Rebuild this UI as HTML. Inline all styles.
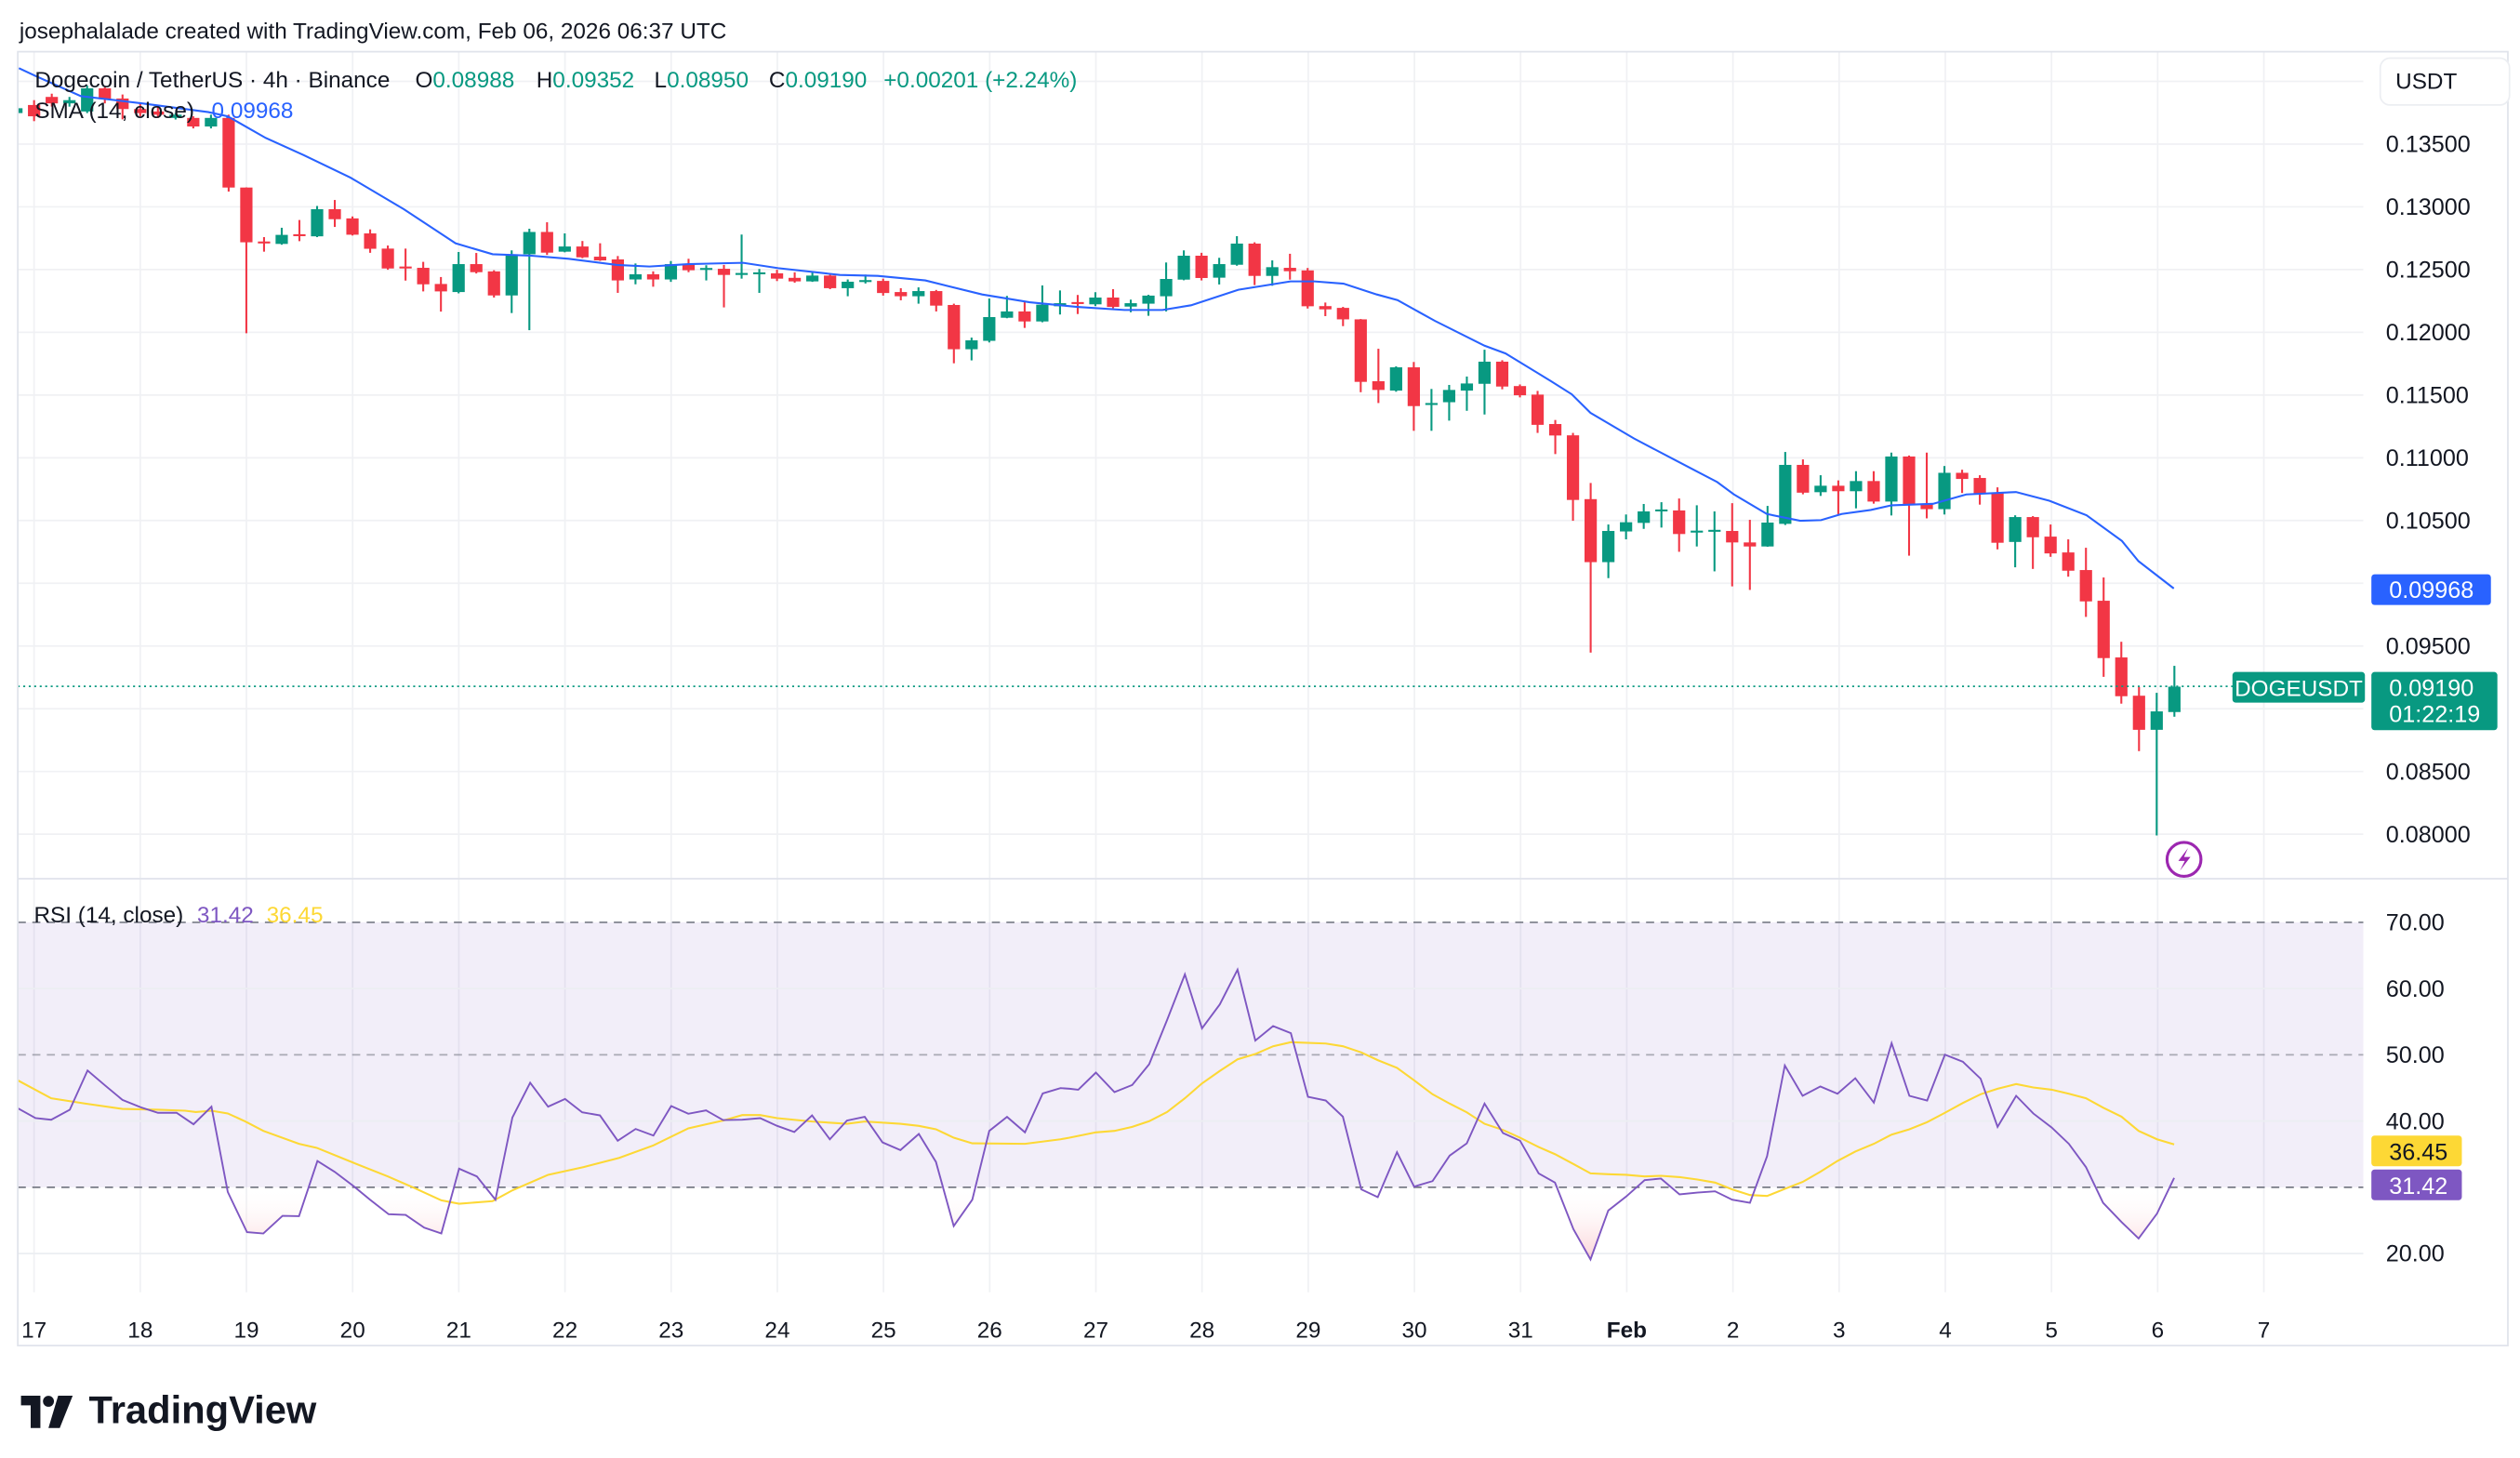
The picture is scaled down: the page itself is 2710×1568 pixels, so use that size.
<!DOCTYPE html>
<html><head><meta charset="utf-8"><style>
html,body{margin:0;padding:0;background:#fff;}
svg{display:block;font-family:"Liberation Sans",Arial,sans-serif;}
</style></head><body>
<svg id="s" width="2710" height="1568" viewBox="0 0 1560 902.6" preserveAspectRatio="none" xmlns="http://www.w3.org/2000/svg">
<defs>
<clipPath id="cm"><rect x="11" y="32" width="1452" height="512"/></clipPath>
<clipPath id="cr"><rect x="11" y="544" width="1452" height="256"/></clipPath>
<clipPath id="cos"><rect x="11" y="735" width="1452" height="65"/></clipPath>
<linearGradient id="pg" gradientUnits="userSpaceOnUse" x1="0" y1="735" x2="0" y2="785">
<stop offset="0" stop-color="#ffffff" stop-opacity="0"/><stop offset="1" stop-color="#f7a1a8" stop-opacity="0.6"/></linearGradient>
</defs>
<rect x="0" y="0" width="1560" height="902.6" fill="#fff"/>
<text x="12" y="24" font-size="14" fill="#131722">josephalalade created with TradingView.com, Feb 06, 2026 06:37 UTC</text>
<g id="grid"></g>
<rect x="11" y="571" width="1452" height="164" fill="#7e57c2" fill-opacity="0.1"/>
<g id="rsig"></g>
<g id="main" clip-path="url(#cm)"></g>
<g id="rsi" clip-path="url(#cr)"></g>
<rect x="11" y="32" width="1541.5" height="801" fill="none" stroke="#e0e3eb" stroke-width="1"/>
<line x1="11" y1="544" x2="1552.5" y2="544" stroke="#e0e3eb" stroke-width="1"/>
<text y="54" font-size="14"><tspan x="21.5" fill="#131722">Dogecoin / TetherUS · 4h · Binance</tspan></text>
<text y="54" font-size="14" fill="#131722"><tspan x="257">O</tspan><tspan fill="#089981">0.08988</tspan><tspan x="332">H</tspan><tspan fill="#089981">0.09352</tspan><tspan x="405">L</tspan><tspan fill="#089981">0.08950</tspan><tspan x="476">C</tspan><tspan fill="#089981">0.09190</tspan><tspan x="547" fill="#089981">+0.00201 (+2.24%)</tspan></text>
<text y="73" font-size="14"><tspan x="21.5" fill="#131722">SMA (14, close)</tspan><tspan x="131" fill="#2962ff">0.09968</tspan></text>
<text y="571" font-size="14"><tspan x="21" fill="#131722">RSI (14, close)</tspan><tspan x="122" fill="#7e57c2">31.42</tspan><tspan x="165" fill="#fdd835">36.45</tspan></text>
<rect x="1473.5" y="36" width="80" height="29" rx="6" fill="#fff" stroke="#eceef2"/>
<text x="1502" y="55" font-size="14" fill="#131722" text-anchor="middle">USDT</text>
<g id="pax" font-size="14.5" fill="#131722"></g>
<rect x="1468" y="355.5" width="74" height="19" rx="2" fill="#2962ff"/>
<text x="1479" y="370" font-size="14.5" fill="#fff">0.09968</text>
<rect x="1382" y="416" width="82" height="19" rx="2" fill="#089981"/>
<text x="1423" y="431" font-size="14" fill="#fff" text-anchor="middle">DOGEUSDT</text>
<rect x="1468" y="416" width="78" height="36" rx="2" fill="#089981"/>
<text x="1479" y="431" font-size="14.5" fill="#fff">0.09190</text>
<text x="1479" y="447" font-size="14.5" fill="#fff">01:22:19</text>
<rect x="1468" y="703" width="56" height="19" rx="2" fill="#fdd835"/>
<text x="1479" y="718" font-size="14.5" fill="#131722">36.45</text>
<rect x="1468" y="724" width="56" height="19" rx="2" fill="#7e57c2"/>
<text x="1479" y="739" font-size="14.5" fill="#fff">31.42</text>
<g id="tax" font-size="14" fill="#131722" text-anchor="middle"></g>
<circle cx="1352" cy="532" r="10.5" fill="#fff" stroke="#9c27b0" stroke-width="1.8"/>
<path d="M1354.5 525 L1348.5 533 L1352.5 533 L1349.5 539 L1356 530.5 L1352 530.5 Z" fill="#9c27b0"/>
<g fill="#131722">
<path d="M13 864 H25 V884 H19 V870 H13 Z"/>
<circle cx="30" cy="867.5" r="3.4"/>
<path d="M36 864 H45 L37 884 H30 Z"/>
</g>
<text x="55" y="881" font-size="24" font-weight="bold" fill="#131722">TradingView</text>
<script>
(function(){
var NS="http://www.w3.org/2000/svg";
function el(p,t,a){var e=document.createElementNS(NS,t);for(var k in a)e.setAttribute(k,a[k]);p.appendChild(e);return e;}
var grid=document.getElementById('grid');
function py(p){return 89.2+(0.135-p)/0.005*38.84;}
var ps=[0.140,0.135,0.130,0.125,0.120,0.115,0.110,0.105,0.100,0.095,0.090,0.085,0.080];
ps.forEach(function(p){el(grid,'line',{x1:11,x2:1463,y1:py(p),y2:py(p),stroke:'#f0f1f4','stroke-width':1});});
for(var k=0;k<=21;k++){var x=21.1+65.73*k;el(grid,'line',{x1:x,x2:x,y1:32,y2:800,stroke:'#f0f1f4','stroke-width':1});}
var pax=document.getElementById('pax');
['0.13500','0.13000','0.12500','0.12000','0.11500','0.11000','0.10500','0.09500','0.08500','0.08000'].forEach(function(s){
 var t=el(pax,'text',{x:1477,y:py(parseFloat(s))+5});t.textContent=s;});
var tax=document.getElementById('tax');
var lb=['17','18','19','20','21','22','23','24','25','26','27','28','29','30','31','Feb','2','3','4','5','6','7'];
lb.forEach(function(s,k){var t=el(tax,'text',{x:21.1+65.73*k,y:828});if(s=='Feb')t.setAttribute('font-weight','bold');t.textContent=s;});
function ry(r){return 571+(70-r)*4.1;}
var rg=document.getElementById('rsig');
[60,40,20].forEach(function(r){el(rg,'line',{x1:11,x2:1463,y1:ry(r),y2:ry(r),stroke:'#eceef2','stroke-width':1});});
[70,50,30].forEach(function(r){el(rg,'line',{x1:11,x2:1463,y1:ry(r),y2:ry(r),stroke:'#787b86','stroke-width':1,'stroke-dasharray':'5 4','stroke-opacity':r==50?0.6:1});});
[['70.00',70],['60.00',60],['50.00',50],['40.00',40],['20.00',20]].forEach(function(a){var t=el(pax,'text',{x:1477,y:ry(a[1])+5});t.textContent=a[0];});
var C=[[-1,'g',67,70,66,71],[0,'r',65,72,62,75],[1,'r',60,64,58,66],[2,'g',62,64,60,66],[3,'g',54.7,69,53,70],[4,'r',54.7,61.4,54,64],[5,'r',61,67.5,58.5,73.9],[6,'r',67.5,70,64,72],[7,'r',69,71,66,73],[8,'g',71,73,70,74],[9,'r',73,78.3,72,79.5],[10,'g',73,78.3,71,79.5],[11,'r',73,116.1,71,118.6],[12,'r',116.1,150,116,206.3],[13,'r',149.5,150.5,146.8,155.8],[14,'g',145.4,151,141,151.5],[15,'r',145,146,136.2,149.3],[16,'g',129.5,146.3,127.5,146.8],[17,'r',129.5,135.7,123.8,140.5],[18,'r',135.2,145.3,134,145.8],[19,'r',144.5,154,142,156.5],[20,'r',153.9,166.2,152,167],[21,'r',165,166,153.9,173.7],[22,'r',165.8,176,162.1,180.4],[23,'r',175.8,180.4,171.5,192.9],[24,'g',163.5,180.8,156,181.6],[25,'r',163.5,168.5,156.6,169.3],[26,'r',168,182.9,167.3,184.2],[27,'g',157.4,182.9,155,193.8],[28,'g',143.6,157.4,141.6,204.4],[29,'r',143.6,156.4,137.6,157.8],[30,'g',152.6,155.8,144.5,156.2],[31,'r',152.6,159.3,149.2,159.8],[32,'r',158.9,161.2,150.6,161.5],[33,'r',160.6,173.6,158.5,181.3],[34,'g',169.8,173,163.1,176],[35,'r',169.8,173,168,177.5],[36,'g',163.5,173,161.6,174.5],[37,'r',163.5,167.3,160.2,168.5],
[38,'g',165.9,166.9,164.2,173.6],[39,'r',166.4,170.2,164,190.3],[40,'g',169,170.2,145.2,172.5],[41,'g',168.6,169.8,166.5,181.3],[42,'r',169.2,172.5,167,174],[43,'r',172,174.2,168.6,175],[44,'g',170.6,174.2,168,174.5],[45,'r',170.6,178.4,170,179],[46,'g',174.4,178.4,173,183.4],[47,'g',173.4,174.4,170,175.5],[48,'r',173.9,181.4,172.5,183],[49,'r',180.8,183.4,178.4,185.9],[50,'g',180.2,183.4,177.9,188],[51,'r',180.2,189.2,179.5,192.8],[52,'r',188.8,216.2,188,224.9],[53,'g',210.7,216.2,209,223.1],[54,'g',196.3,211,184.8,212],[55,'g',192.8,196.7,183.2,197],[56,'r',192.8,199,186.7,203],[57,'g',188.6,199,176.7,199.5],[58,'g',187.7,189.6,179.8,194.7],[59,'r',187,188.2,182.6,194.4],[60,'g',184.2,188.4,180.9,189.5],[61,'r',184.2,190,179,190.8],[62,'g',187.7,189.8,185.5,193.3],[63,'g',183,188,182.5,195.5],[64,'g',172.7,183.4,162.5,192.8],[65,'g',158.3,173.1,155,173.5],[66,'r',158.3,172.1,156.5,173.6],[67,'g',163.5,171.9,159.6,176.1],[68,'g',150.8,163.9,146.2,164.5],[69,'r',150.8,170.8,150,176.5],[70,'g',165.4,170.8,161.2,176.9],[71,'r',165.8,167.9,157.1,173.1],[72,'r',167.4,189.6,165.9,191],[73,'r',189.5,191.5,187.3,195.7],[74,'r',190.6,197.7,190,201.9],
[75,'r',197.7,236.4,197.5,242.8],[76,'r',236,241.4,215.9,249.5],[77,'g',227.4,241.8,226.8,242.5],[78,'r',227.4,251.4,224.1,266.7],[79,'g',249.5,250.5,240.8,266.7],[80,'g',241.4,249,238.3,260.4],[81,'g',237.4,241.8,233.1,254.3],[82,'g',223.9,237.6,216.5,256.6],[83,'r',223.9,239.3,223,241],[84,'r',239,244.7,238,246],[85,'r',244.3,263,242,268],[86,'r',262.5,269.6,260,281.1],[87,'r',269.5,309.5,268,322.4],[88,'r',309,348,299,404],[89,'g',328.7,348,324.7,357.9],[90,'g',323.3,329,318.5,333.9],[91,'g',316.6,323.7,312,327.4],[92,'g',315.4,316.6,310.9,326.6],[93,'r',316,330.6,308.6,341.6],[94,'g',328.5,329.5,312.8,338.3],[95,'g',328,329.2,316.6,353.7],[96,'r',328.7,335.8,311.5,363],[97,'r',335.8,338.3,321.8,365.2],[98,'g',323.5,338.3,313.2,338.5],[99,'g',287.8,324.3,279.8,325],[100,'r',287.8,305,284.4,306],[101,'g',300.7,304.7,294.2,307],[102,'r',300.7,304.1,297.4,318.5],[103,'g',297.8,304.1,291.7,314.7],[104,'r',297.8,310.5,291.7,311.8],[105,'g',282.6,310.5,280.2,319.1],[106,'r',282.6,312.4,282,344],[107,'r',311.8,315.2,280.2,320.9],[108,'g',292.7,315.2,288.5,318.5],
[109,'r',292.7,296.5,290.8,305.2],[110,'r',295.9,305.5,294.2,312.4],[111,'r',305.2,336,301.7,340.1],[112,'g',320.1,335.5,319,351.2],[113,'r',320.1,332.6,319.5,352.2],[114,'r',332.2,342.6,324.7,344.7],[115,'r',342,353.3,333.9,357],[116,'r',352.9,372.3,339.1,381.9],[117,'r',371.9,407.4,357.5,419],[118,'r',407,431,397.3,435.6],[119,'r',430.7,451.8,425.3,465],[120,'g',440.4,451.8,428.9,517.2],[121,'g',425.1,440.8,412.2,443.7]];
var m=document.getElementById('main');
C.forEach(function(c){var x=21.1+10.95*c[0];var col=c[1]=='g'?'#089981':'#f23645';
 el(m,'rect',{x:x-0.6,y:c[4],width:1.2,height:c[5]-c[4],fill:col});
 var h=Math.max(c[3]-c[2],1.2);el(m,'rect',{x:x-3.8,y:c[2],width:7.6,height:h,fill:col});});
var sma=[[11.7,42.2],[22,47],[50,59.5],[88,64],[129,69.4],[141,72],[164.5,85.4],[188,96],[217,110],[250,129.5],[282,150.6],[305,157.4],[329,158.3],[352,160.2],[382,164],[402,165],[426,163.5],[460,162.7],[481.7,166],[519.9,170.2],[543.4,170.8],[572.8,173.6],[584.5,176.5],[608,182.3],[637.4,187.1],[666.8,190],[696.1,191.9],[719.6,191.9],[737.3,189],[766.6,179.4],[798.9,174.2],[813.7,174.2],[831.7,175.6],[852.3,182.3],[865.1,185.8],[888.2,198.6],[919,214],[932,218.8],[960.2,236],[973,244.1],[984.6,255.6],[1011.6,271.5],[1037.3,285],[1063,298.4],[1073.3,306],[1093.8,318.2],[1114.4,322.4],[1127.3,322],[1140.1,318.2],[1158.1,315.7],[1171,312.8],[1196.6,311.9],[1217.2,306.1],[1248,304.6],[1268.6,310],[1291.7,319],[1313.6,334.9],[1323.8,347.4],[1345.7,364.3]];
el(m,'polyline',{points:sma.map(function(p){return p.join(',');}).join(' '),fill:'none',stroke:'#2962ff','stroke-width':1.2});
el(m,'line',{x1:11,x2:1463,y1:424.9,y2:424.9,stroke:'#089981','stroke-width':1,'stroke-dasharray':'1.2 2.2'});
function cv(a,off){return a.map(function(p){return [p[0]*0.4406+off,p[1]*0.1919+552.7];});}
var p7=[[25,695],[50,727],[72,732],[98,700],[123,573],[148,622],[172,668],[198,692],[222,710],[248,710],[272,747],[297,690],[320,965],[347,1095],[370,1099],[397,1042],[420,1043],[446,865],[470,900],[496,945],[520,990],[546,1037],[570,1039],[596,1080],[620,1099],[645,890],[670,915],[696,990],[720,725],[745,613],[770,690],[794,665],[818,708],[843,718],[868,800],[893,762],[918,783],[943,688],[967,713],[992,702],[1016,733],[1043,732],[1068,727],[1092,752],[1116,772],[1141,718],[1166,795],[1190,735],[1215,723],[1240,805],[1265,830],[1291,778],[1315,868],[1340,1075],[1366,990],[1390,768],[1415,723],[1440,773],[1465,647],[1490,630],[1515,635]];
var p8=[[0,632],[12,635],[37,580],[63,643],[88,620],[112,553],[137,410],[162,263],[186,437],[211,360],[236,248],[261,477],[286,430],[311,453],[335,658],[360,670],[384,722],[410,957],[433,982],[460,837],[484,948],[510,930],[534,848],[558,808],[583,680],[609,775],[633,800],[659,905],[682,935],[708,1085],[732,1183],[757,1025],[782,980],[808,927],[831,922],[857,973],[882,967],[907,963],[931,990],[956,1000],[980,850],[1005,557],[1030,655],[1055,625],[1079,648],[1104,598],[1130,677],[1155,485],[1180,655],[1205,670],[1230,522],[1255,545],[1280,600],[1304,755],[1330,655],[1354,712],[1380,757],[1404,810],[1428,885],[1452,1000],[1478,1062],[1502,1115],[1528,1035],[1552,920]];
var y7=[[25,605],[72,663],[120,680],[172,697],[222,700],[260,703],[275,707],[297,703],[320,712],[345,738],[370,768],[420,810],[445,823],[496,870],[545,915],[580,950],[620,992],[645,1003],[692,995],[720,960],[770,910],[820,885],[870,855],[918,815],[967,760],[1016,735],[1043,717],[1068,717],[1092,727],[1141,738],[1190,745],[1215,738],[1265,745],[1291,752],[1315,763],[1340,790],[1366,808],[1440,810],[1490,795]];
var y8=[[0,790],[37,773],[63,768],[88,755],[112,737],[137,707],[162,663],[186,615],[211,575],[236,537],[261,520],[286,495],[311,482],[360,486],[384,495],[410,515],[433,540],[460,565],[484,605],[510,650],[534,680],[558,708],[583,745],[609,765],[633,790],[659,820],[682,843],[708,875],[732,905],[757,908],[782,910],[808,915],[831,913],[857,917],[882,925],[907,935],[931,957],[956,975],[980,978],[1005,955],[1030,933],[1055,900],[1079,865],[1104,835],[1130,810],[1155,780],[1180,763],[1205,740],[1230,710],[1255,678],[1280,650],[1304,632],[1330,617],[1354,628],[1380,635],[1404,648],[1428,663],[1452,693],[1478,722],[1502,768],[1528,795],[1552,812]];
var P=cv(p7,0).concat(cv(p8,662.1));var Y=cv(y7,0).concat(cv(y8,662.1));
P.sort(function(a,b){return a[0]-b[0];});Y.sort(function(a,b){return a[0]-b[0];});
var r=document.getElementById('rsi');
var s=function(A){return A.map(function(p){return p[0].toFixed(1)+','+p[1].toFixed(1);}).join(' ');};
var poly=P.concat([[P[P.length-1][0],735],[P[0][0],735]]);
el(r,'polygon',{points:s(poly),fill:'url(#pg)','clip-path':'url(#cos)'});
el(r,'polyline',{points:s(Y),fill:'none',stroke:'#fdd835','stroke-width':1.2});
el(r,'polyline',{points:s(P),fill:'none',stroke:'#7e57c2','stroke-width':1.1});
})();
</script>
</svg>
</body></html>
